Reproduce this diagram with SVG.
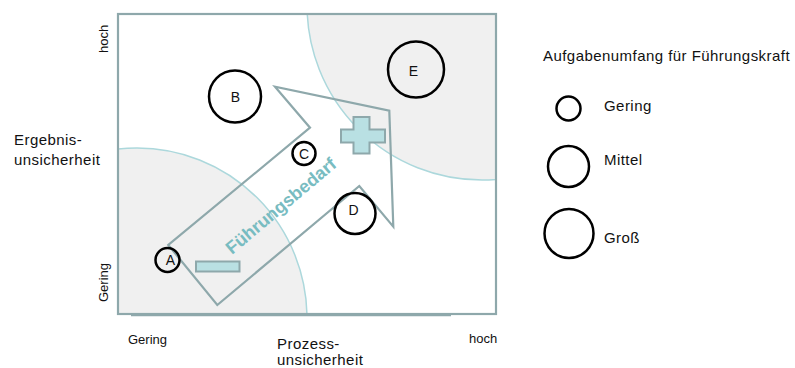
<svg xmlns="http://www.w3.org/2000/svg" width="795" height="368" viewBox="0 0 795 368">
  <style>
    .lbl { font-family: "Liberation Sans", Arial, sans-serif; fill: #111; }
    .ax { font-size: 15px; letter-spacing: 0.45px; }
    .sm { font-size: 13px; }
    .node circle { fill: none; stroke: #000; stroke-width: 2.5; }
    .node text { font-family: "Liberation Sans", Arial, sans-serif; font-size: 14px; fill: #111; text-anchor: middle; }
    .zone { fill: #f0f0f0; stroke: #acd8dc; stroke-width: 1.5; }
    .frame { fill: none; stroke: #8ea8ab; stroke-width: 2.2; }
    .edge { fill: none; stroke: #8ea8ab; stroke-width: 2.2; stroke-linejoin: miter; }
    .sign { fill: #b9e0e3; stroke: #8ea8ab; stroke-width: 2; }
  </style>
  <defs>
    <clipPath id="plot">
      <rect x="118" y="14" width="378" height="300"/>
    </clipPath>
  </defs>

  <!-- background -->
  <rect width="795" height="368" fill="#fff"/>

  <!-- uncertainty zones -->
  <g id="zones" clip-path="url(#plot)">
    <circle class="zone" cx="137" cy="318" r="170"/>
    <circle class="zone" cx="482" cy="5" r="175"/>
  </g>

  <!-- plot frame -->
  <g id="frame">
    <rect class="frame" x="118" y="14" width="378" height="300"/>
    <line x1="131" y1="315.5" x2="451" y2="315.5" stroke="#8ea8ab" stroke-width="1.5"/>
  </g>

  <!-- leadership demand arrow -->
  <g id="connectors">
    <polygon class="edge" points="168.3,245 217.3,305 359.3,186 393.3,226.7 389.3,110.7 275,86.7 310,127.7"/>
  </g>

  <g id="minus">
    <rect class="sign" x="196" y="261.5" width="43.5" height="10"/>
  </g>
  <g id="plus">
    <polygon class="sign" points="353.5,117 369.5,117 369.5,129.5 385,129.5 385,142.5 369.5,142.5 369.5,153.5 353.5,153.5 353.5,142.5 341,142.5 341,129.5 353.5,129.5"/>
  </g>
  <g id="arrow-label">
    <text transform="translate(281,206) rotate(-40)" x="0" y="6" text-anchor="middle" font-family="Liberation Sans, Arial, sans-serif" font-weight="bold" font-size="18" fill="#78bcc1">Führungsbedarf</text>
  </g>

  <!-- tasks -->
  <g id="node-A" class="node">
    <circle cx="167.5" cy="260" r="12"/>
    <text x="170.5" y="265">A</text>
  </g>
  <g id="node-B" class="node">
    <circle cx="235" cy="96.5" r="26"/>
    <text x="235.5" y="101.5">B</text>
  </g>
  <g id="node-C" class="node">
    <circle cx="304" cy="153.5" r="11.5"/>
    <text x="304" y="158.5">C</text>
  </g>
  <g id="node-D" class="node">
    <circle cx="355" cy="213.5" r="20.5"/>
    <text x="353.5" y="215">D</text>
  </g>
  <g id="node-E" class="node">
    <circle cx="416" cy="69.5" r="28"/>
    <text x="413.5" y="75.5">E</text>
  </g>

  <!-- axis labels -->
  <g id="axis-y">
    <text class="lbl ax" x="14" y="145">Ergebnis-</text>
    <text class="lbl ax" x="14" y="165">unsicherheit</text>
    <text class="lbl sm" transform="translate(108,53) rotate(-90)">hoch</text>
    <text class="lbl sm" transform="translate(108,302) rotate(-90)">Gering</text>
  </g>
  <g id="axis-x">
    <text class="lbl sm" x="128" y="344">Gering</text>
    <text class="lbl sm" x="469" y="343">hoch</text>
    <text class="lbl ax" x="277" y="349">Prozess-</text>
    <text class="lbl ax" x="277" y="365">unsicherheit</text>
  </g>

  <!-- legend -->
  <g id="legend">
    <text class="lbl ax" x="543" y="61">Aufgabenumfang für Führungskraft</text>
    <g id="legend-small" class="node">
      <circle cx="568.5" cy="108.5" r="12"/>
    </g>
    <text class="lbl ax" x="604" y="111">Gering</text>
    <g id="legend-medium" class="node">
      <circle cx="568.5" cy="166.5" r="20.5"/>
    </g>
    <text class="lbl ax" x="604" y="165">Mittel</text>
    <g id="legend-large" class="node">
      <circle cx="569" cy="233.5" r="24.5"/>
    </g>
    <text class="lbl ax" x="604" y="243">Groß</text>
  </g>
</svg>
